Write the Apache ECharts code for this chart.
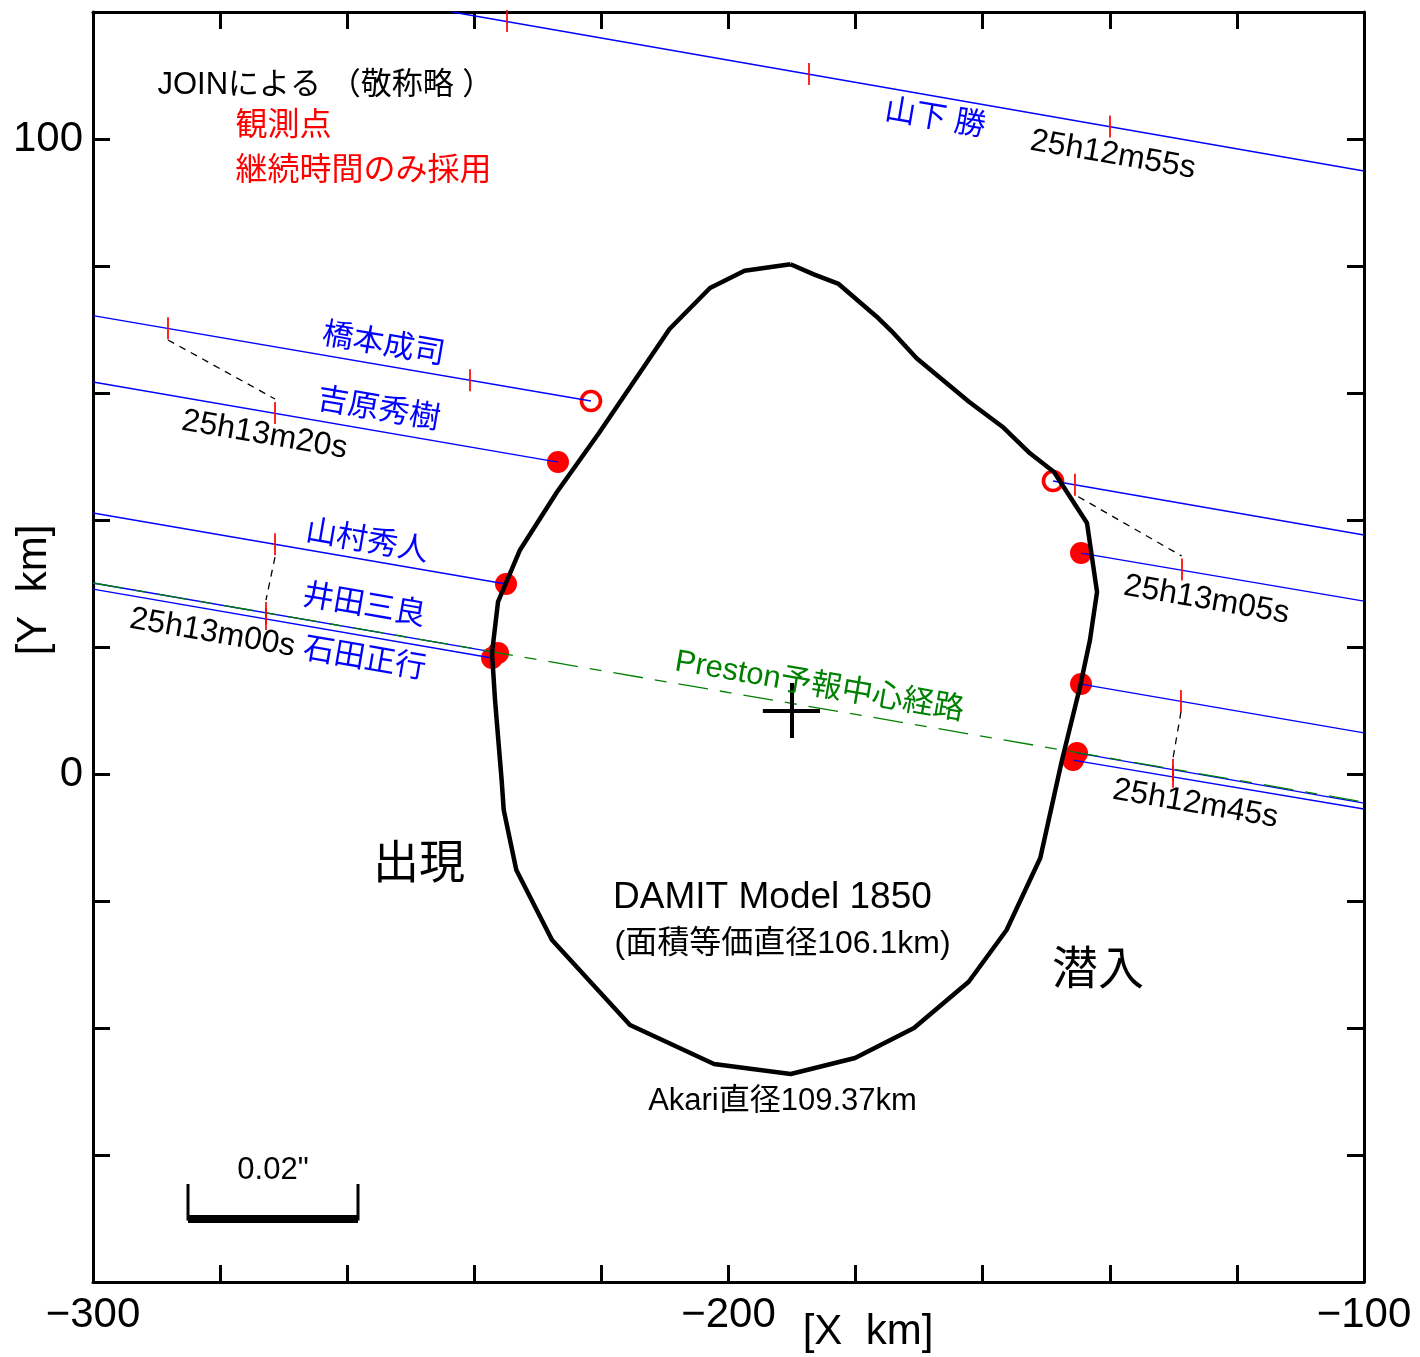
<!DOCTYPE html>
<html>
<head>
<meta charset="utf-8">
<script src="https://cdn.jsdelivr.net/npm/echarts@6/dist/echarts.min.js"></script>
<style>html,body{margin:0;padding:0;background:#fff}#c{width:1420px;height:1357px}</style>
</head>
<body>
<div id="c"></div>
<script>
// ---------- data ----------
const X_TICK_LABELS = [-300, -200, -100];
const Y_TICK_LABELS = [0, 100];

// DAMIT Model 1850 outline [km]
const outlineX = [-190.24,-186.58,-182.67,-176.68,-174.35,-170.40,-162.16,-156.90,-152.56,-148.78,-143.59,-142.01,-143.12,-144.69,-147.52,-150.94,-156.24,-162.20,-170.81,-180.09,-190.21,-202.28,-215.50,-227.77,-233.39,-235.37,-235.70,-236.74,-237.21,-236.27,-232.81,-226.99,-220.38,-209.28,-202.91,-197.47,-190.24];
const outlineY = [80.27,78.69,77.17,72.02,69.76,65.46,58.63,54.69,50.50,47.56,39.53,28.66,21.10,13.70,2.20,-13.23,-24.57,-32.71,-40.00,-44.72,-47.24,-45.67,-39.53,-26.14,-15.12,-5.67,-0.94,11.65,19.06,27.09,35.28,44.41,53.70,70.08,76.54,79.26,80.27];

// positive chords
const observers = ['橋本成司', '吉原秀樹', '山村秀人', '井田三良', '石田正行'];
const reappearX = [-221.64, -226.83, -235.01, -236.27, -237.21];
const reappearY = [58.74, 49.13, 29.92, 19.06, 18.27];
const disappearX = [-148.94, -144.53, -144.53, -145.16, -145.79];
const disappearY = [46.14, 34.80, 14.17, 3.31, 2.20];
const durationOnly = [true, false, false, false, false];
const chordLeftY = [72.17, 61.73, 41.10, 30.08, 29.13];   // chord at x = -300
const chordRightY = [37.64, 27.24, 6.46, -4.57, -5.51];   // chord at x = -100

// miss chord (山下 勝)
const missChordX = [-243.5, -100];
const missChordY = [120, 94.96];

// Preston predicted center path
const prestonX = [-300, -100];
const prestonY = [30.08, -4.41];

// timing marks (5 s steps)
const timeTickX = [-234.85, -187.33, -139.97, -288.20, -240.68, -271.36, -271.36, -272.78, -272.78, -145.48, -128.64, -128.80, -130.05, -130.05];
const timeTickY = [118.57, 110.25, 101.96, 70.20, 62.00, 56.85, 36.20, 25.37, 24.42, 45.54, 32.20, 11.48, 0.67, -0.44];

// same-time connectors
const connX1 = [-288.20, -271.36, -144.96, -128.80];
const connY1 = [68.35, 34.17, 43.67, 9.81];
const connX2 = [-271.36, -272.78, -128.69, -130.10];
const connY2 = [59.06, 27.40, 34.33, 2.20];

// center cross
const crossX = [-194.6, -185.6, -190.0, -190.0];
const crossY = [10.0, 10.0, 14.33, 5.67];

// scale bar 0.02"
const scaleBarX = [-285.05, -258.30];
const scaleBarY = -70.08;
const scaleBarTopY = -64.57;

// rotated labels along chords
const chordTexts = ['山下 勝', '橋本成司', '吉原秀樹', '山村秀人', '井田三良', '石田正行'];
const chordTextX = [-167.51, -254.29, -255.07, -256.88, -257.36, -257.28];
const chordTextY = [103.15, 67.56, 57.32, 36.54, 26.46, 18.03];
const timeTexts = ['25h12m55s', '25h13m20s', '25h13m00s', '25h13m05s', '25h12m45s'];
const timeTextX = [-139.50, -273.01, -281.20, -124.78, -126.52];
const timeTextY = [97.48, 53.39, 22.20, 27.40, -4.72];
const pathTexts = ['Preston予報中心経路'];
const pathTextX = [-185.68];
const pathTextY = [13.78];

// other notes
const bigTexts = ['出現', '潜入'];
const bigTextX = [-248.70, -141.86];
const bigTextY = [-14.33, -31.02];
const modelTexts = ['DAMIT Model 1850', '(面積等価直径106.1km)', 'Akari直径109.37km', '0.02"'];
const modelTextX = [-193.08, -191.50, -191.50, -271.68];
const modelTextY = [-19.45, -26.77, -51.50, -62.36];
const modelTextSize = [37, 32, 31, 31];
const legendTexts = ['JOINによる （敬称略 ）', '観測点', '継続時間のみ採用'];
const legendTextX = [-289.93, -277.66, -277.66];
const legendTextY = [108.5, 102.05, 94.96];
const legendTextColor = ['#000000', '#ff0000', '#ff0000'];

// ---------- chart ----------
const FONT = "'Liberation Sans','Noto Sans CJK JP',sans-serif";
const ROT = -9.77;
const pts = (xs, ys) => xs.map((x, i) => [x, ys[i]]);
const minus = v => String(v).replace('-', '\u2212');

function axis(pos, showLabel, isX) {
  return {
    type: 'value', position: pos,
    min: isX ? -300 : -80, max: isX ? -100 : 120, interval: 20,
    axisLine: { show: true, onZero: false, lineStyle: { color: '#000', width: 3 } },
    axisTick: { show: true, inside: true, length: 17, lineStyle: { color: '#000', width: 3 } },
    splitLine: { show: false },
    axisLabel: showLabel ? {
      show: true, color: '#000', fontSize: 42, fontFamily: FONT, margin: isX ? 12 : 10,
      formatter: v => ((isX ? X_TICK_LABELS : Y_TICK_LABELS).indexOf(v) >= 0 ? minus(v) : '')
    } : { show: false }
  };
}

function textSeries(texts, xs, ys, labelFn) {
  return {
    type: 'scatter', symbolSize: 1, silent: true, z: 10,
    itemStyle: { color: 'rgba(0,0,0,0)', opacity: 1 },
    data: texts.map((t, i) => ({ value: [xs[i], ys[i]], label: Object.assign({ show: true, formatter: t, fontFamily: FONT, opacity: 1 }, labelFn(i)) }))
  };
}

const leftChords = observers.map((_, i) => ({ coords: [[-300, chordLeftY[i]], [reappearX[i], reappearY[i]]] }));
const rightChords = observers.map((_, i) => ({ coords: [[disappearX[i], disappearY[i]], [-100, chordRightY[i]]] }));
const missChord = { coords: pts(missChordX, missChordY) };

const filledPts = [], openPts = [];
observers.forEach((_, i) => {
  const arr = durationOnly[i] ? openPts : filledPts;
  arr.push([reappearX[i], reappearY[i]]);
  arr.push([disappearX[i], disappearY[i]]);
});

const option = {
  animation: false,
  backgroundColor: '#fff',
  grid: { left: 93, right: 56, top: 12, bottom: 75, containLabel: false },
  xAxis: [axis('bottom', true, true), axis('top', false, true)],
  yAxis: [axis('left', true, false), axis('right', false, false)],
  series: [
    { type: 'scatter', symbol: 'circle', symbolSize: 22, silent: true, z: 2,
      itemStyle: { color: '#ff0000', opacity: 1 }, data: filledPts },
    { type: 'scatter', symbol: 'circle', symbolSize: 19, silent: true, z: 2,
      itemStyle: { color: 'rgba(0,0,0,0)', borderColor: '#ff0000', borderWidth: 3.6, opacity: 1 }, data: openPts },
    { type: 'lines', coordinateSystem: 'cartesian2d', silent: true, z: 3,
      lineStyle: { color: '#0000ff', width: 1.3, opacity: 1, curveness: 0 },
      data: leftChords.concat(rightChords, [missChord]) },
    { type: 'lines', coordinateSystem: 'cartesian2d', silent: true, z: 3,
      lineStyle: { color: '#008000', width: 1.3, opacity: 1, type: [30, 12, 12, 12] },
      data: [{ coords: pts(prestonX, prestonY) }] },
    { type: 'lines', coordinateSystem: 'cartesian2d', silent: true, z: 3,
      lineStyle: { color: '#000', width: 1.3, opacity: 1, type: [7, 6] },
      data: connX1.map((x, i) => ({ coords: [[x, connY1[i]], [connX2[i], connY2[i]]] })) },
    { type: 'scatter', symbol: 'rect', symbolSize: [1.7, 22], silent: true, z: 4,
      itemStyle: { color: '#ff0000', opacity: 1 }, data: pts(timeTickX, timeTickY) },
    { type: 'line', data: pts(outlineX, outlineY), symbol: 'none', silent: true, z: 5,
      lineStyle: { color: '#000', width: 4.5, join: 'round' } },
    { type: 'lines', coordinateSystem: 'cartesian2d', silent: true, z: 5,
      lineStyle: { color: '#000', width: 4, opacity: 1 },
      data: [{ coords: [[crossX[0], crossY[0]], [crossX[1], crossY[1]]] },
             { coords: [[crossX[2], crossY[2]], [crossX[3], crossY[3]]] }] },
    { type: 'lines', coordinateSystem: 'cartesian2d', polyline: true, silent: true, z: 5,
      lineStyle: { color: '#000', width: 3, opacity: 1 },
      data: [{ coords: [[scaleBarX[0], scaleBarTopY], [scaleBarX[0], scaleBarY], [scaleBarX[1], scaleBarY], [scaleBarX[1], scaleBarTopY]] }] },
    { type: 'lines', coordinateSystem: 'cartesian2d', silent: true, z: 5,
      lineStyle: { color: '#000', width: 8, opacity: 1, cap: 'butt' },
      data: [{ coords: [[scaleBarX[0], scaleBarY], [scaleBarX[1], scaleBarY]] }] },
    textSeries(chordTexts, chordTextX, chordTextY, () => ({ position: 'inside', rotate: ROT, color: '#0000ff', fontSize: 31 })),
    textSeries(timeTexts, timeTextX, timeTextY, () => ({ position: 'inside', rotate: ROT, color: '#000000', fontSize: 32 })),
    textSeries(pathTexts, pathTextX, pathTextY, () => ({ position: 'inside', rotate: ROT, color: '#008000', fontSize: 31 })),
    textSeries(bigTexts, bigTextX, bigTextY, () => ({ position: 'inside', color: '#000000', fontSize: 46 })),
    textSeries(modelTexts, modelTextX, modelTextY, i => ({ position: 'inside', color: '#000000', fontSize: modelTextSize[i] })),
    textSeries(legendTexts, legendTextX, legendTextY, i => ({ position: 'right', distance: 0, color: legendTextColor[i], fontSize: i === 0 ? 31 : 32 }))
  ],
  graphic: [
    { type: 'text', x: 868, y: 1332, silent: true,
      style: { text: '[X  km]', font: "42px 'Liberation Sans'", fill: '#000', align: 'center', verticalAlign: 'middle', textAlign: 'center', textVerticalAlign: 'middle' } },
    { type: 'text', x: 34, y: 590, rotation: Math.PI / 2, silent: true,
      style: { text: '[Y  km]', font: "42px 'Liberation Sans'", fill: '#000', align: 'center', verticalAlign: 'middle', textAlign: 'center', textVerticalAlign: 'middle' } }
  ]
};

const chart = echarts.init(document.getElementById('c'), null, { renderer: 'canvas' });
chart.setOption(option);
</script>
</body>
</html>
